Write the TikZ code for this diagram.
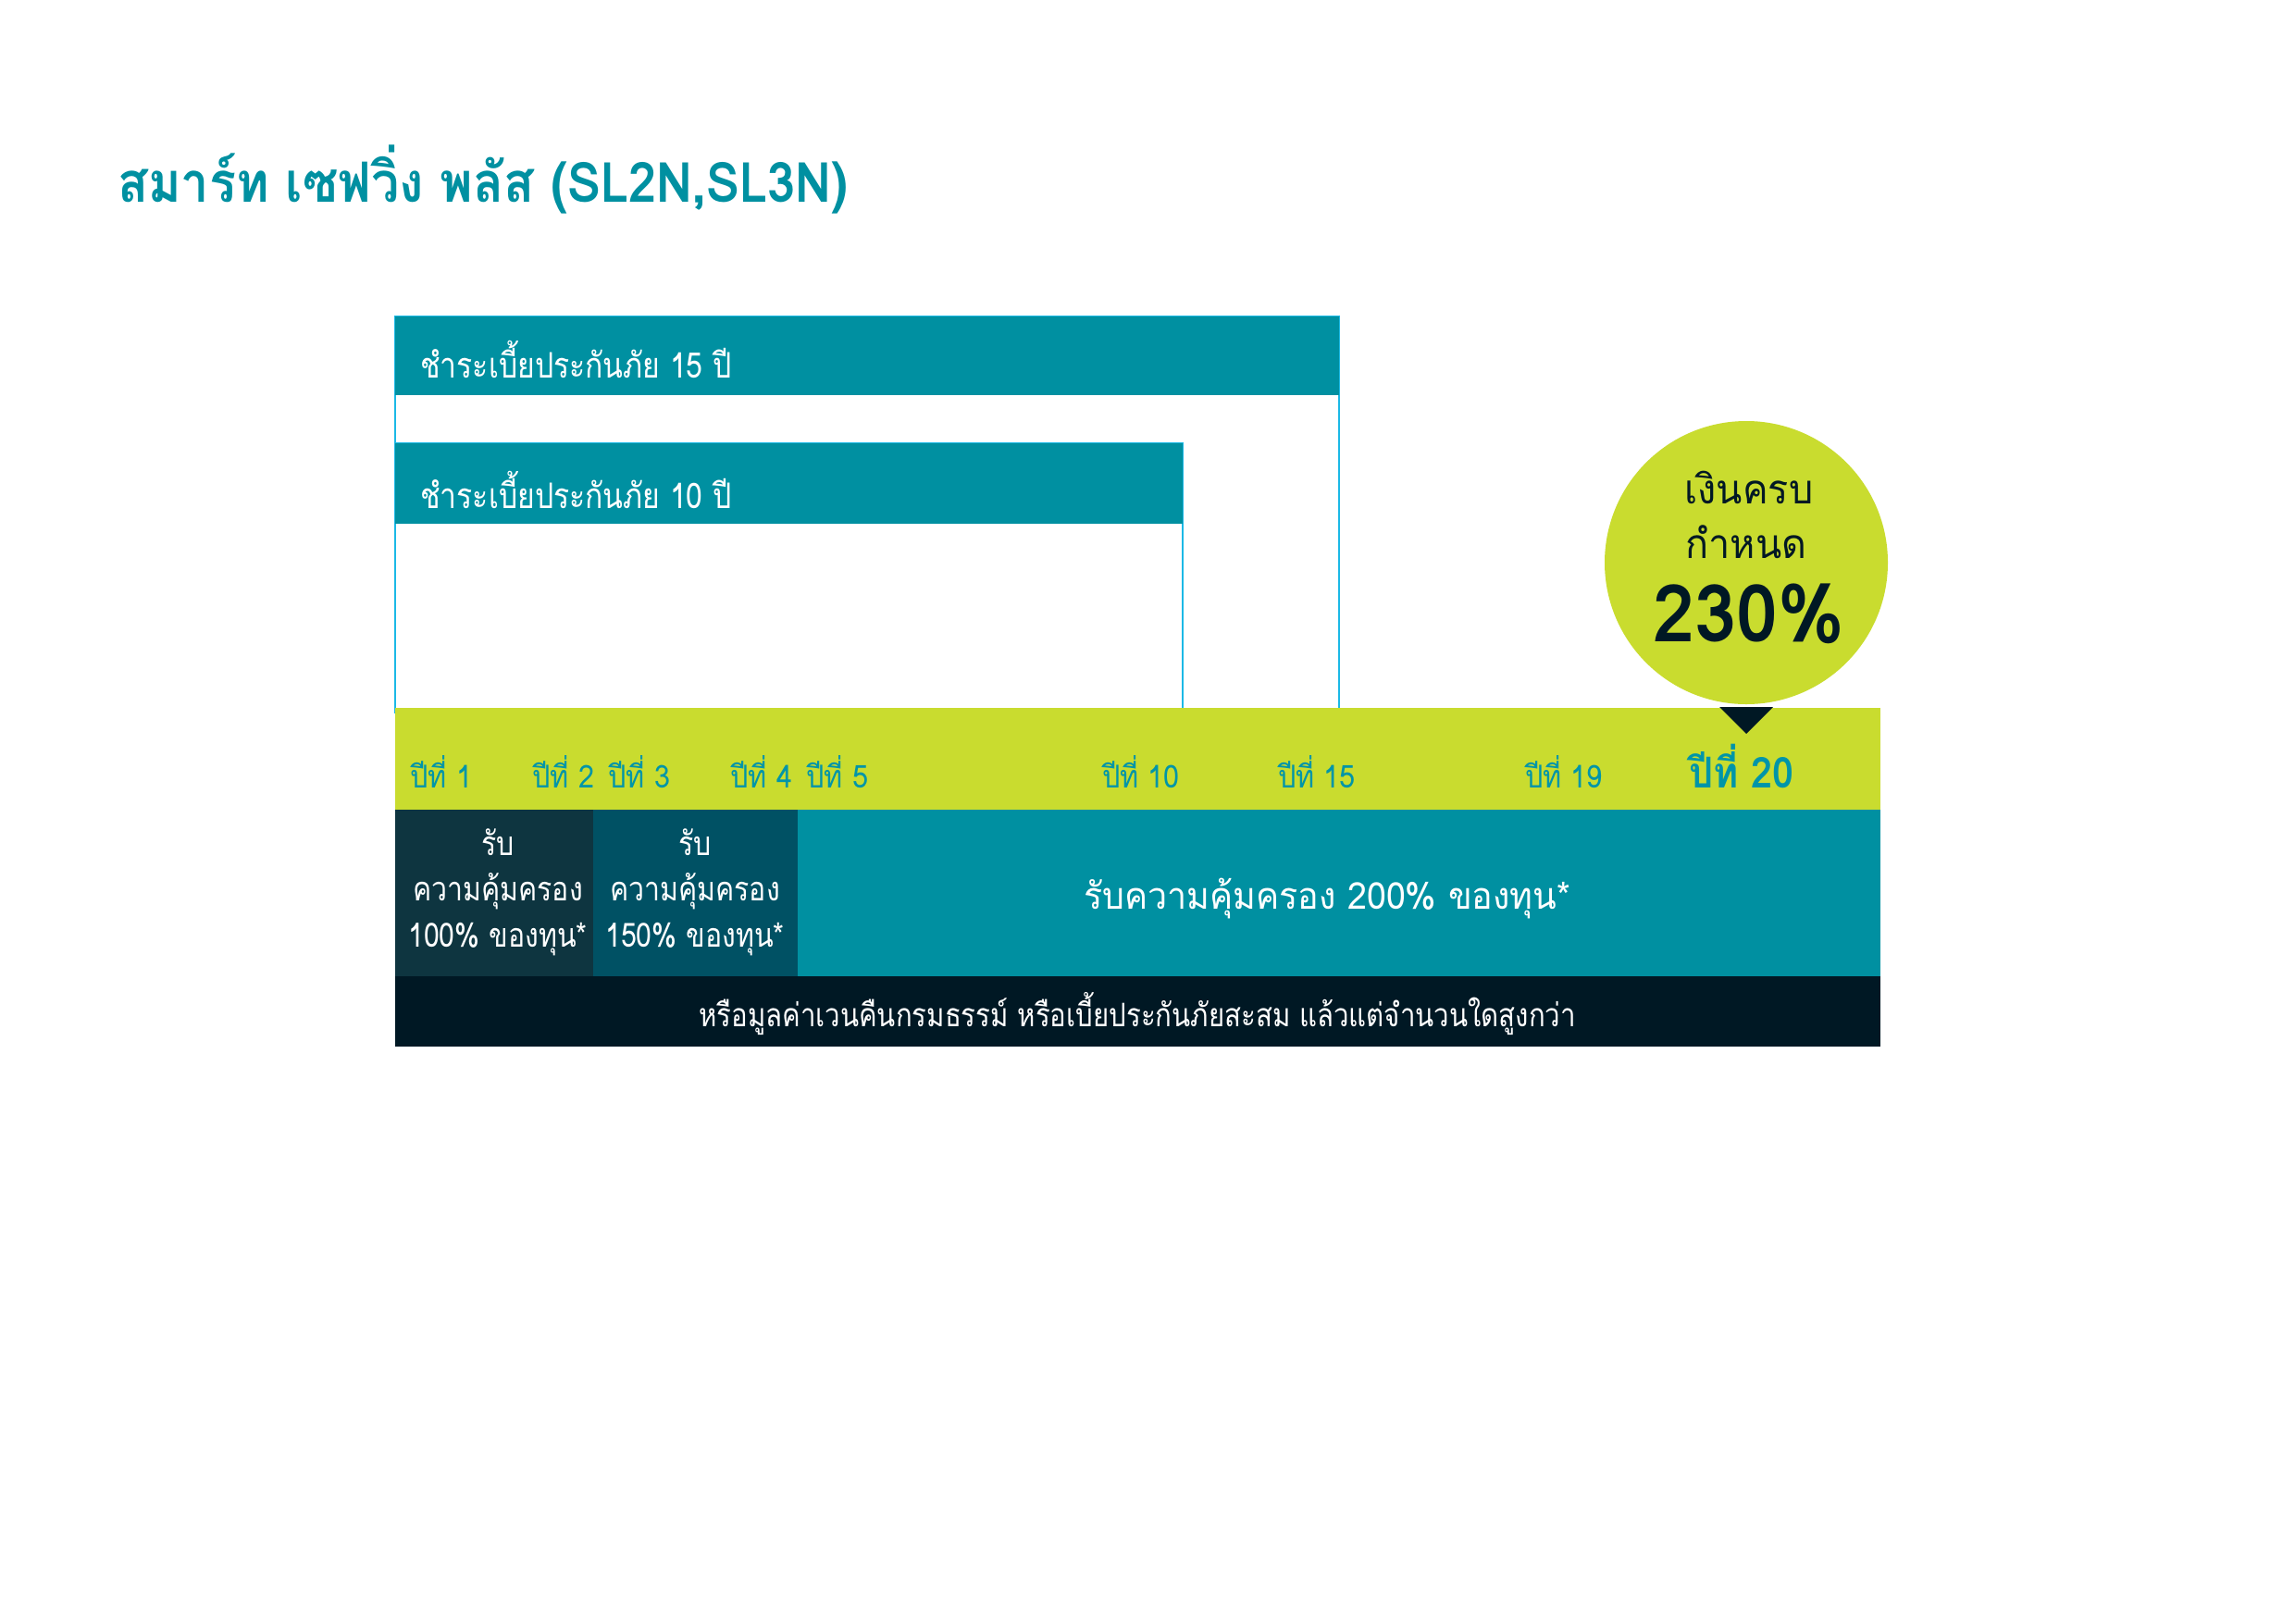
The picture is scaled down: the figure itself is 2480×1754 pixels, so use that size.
\documentclass[tikz,border=0pt]{standalone}
\usepackage{fontspec}
\setmainfont[Script=Thai]{Loma}
\newfontfamily\lomaA[Script=Thai,FakeStretch=0.84]{Loma}
\newfontfamily\lomaB[Script=Thai,FakeStretch=0.90]{Loma}
\newfontfamily\lomaC[Script=Thai,FakeStretch=0.94]{Loma}
\definecolor{tealc}{HTML}{0090A1}
\definecolor{yeartxt}{HTML}{0095A8}
\definecolor{boxline}{HTML}{1CB9E6}
\definecolor{lime}{HTML}{C9DC2F}
\definecolor{darkA}{HTML}{0E3540}
\definecolor{darkB}{HTML}{005164}
\definecolor{navy}{HTML}{001824}
\tikzset{
  yearlbl/.style={anchor=base, text=yeartxt, font=\lomaB\fontsize{34}{40}\selectfont, inner sep=0},
  headlbl/.style={anchor=base west, text=white, font=\lomaA\fontsize{38}{44}\selectfont, inner sep=0},
  covlbl/.style={anchor=base, text=white, font=\lomaA\fontsize{36}{42}\selectfont, inner sep=0},
  circlbl/.style={anchor=base, text=navy, inner sep=0},
}
\begin{document}
\begin{tikzpicture}[x=1pt,y=-1pt]
\useasboundingbox (0,0) rectangle (2480,1754);
\fill[white] (0,0) rectangle (2480,1754);
% title
\node[anchor=base west, text=tealc, inner sep=0, font=\lomaB\fontsize{60}{70}\selectfont\bfseries] (title) at (127,218) {สมาร์ท เซฟวิ่ง พลัส (SL2N,SL3N)};
% payment boxes
\draw[boxline, line width=2.5] (427,342) rectangle (1447,770);
\fill[tealc] (427,342) rectangle (1447,427);
\draw[boxline, line width=2.5] (427,479) rectangle (1278,770);
\fill[tealc] (427,479) rectangle (1278,566);
\node[headlbl] (pay15) at (454,408) {ชำระเบี้ยประกันภัย 15 ปี};
\node[headlbl] (pay10) at (454,549) {ชำระเบี้ยประกันภัย 10 ปี};
% timeline bar
\fill[lime] (427,765) rectangle (2032,875);
\node[yearlbl] (y1) at (477,851) {ปีที่ 1};
\node[yearlbl] (y2) at (609,851) {ปีที่ 2};
\node[yearlbl] (y3) at (691,851) {ปีที่ 3};
\node[yearlbl] (y4) at (823,851) {ปีที่ 4};
\node[yearlbl] (y5) at (905,851) {ปีที่ 5};
\node[yearlbl] (y10) at (1233,851) {ปีที่ 10};
\node[yearlbl] (y15) at (1423,851) {ปีที่ 15};
\node[yearlbl] (y19) at (1690,851) {ปีที่ 19};
\node[yearlbl, font=\lomaB\fontsize{46}{52}\selectfont\bfseries] (y20) at (1882,851) {ปีที่ 20};
% coverage row
\fill[darkA] (427,875) rectangle (641,1055);
\fill[darkB] (641,875) rectangle (862,1055);
\fill[tealc] (862,875) rectangle (2032,1055);
\node[covlbl] (c1a) at (538,924) {รับ};
\node[covlbl] (c1b) at (538,973) {ความคุ้มครอง};
\node[covlbl] (c1c) at (538,1023) {100\% ของทุน*};
\node[covlbl] (c2a) at (751,924) {รับ};
\node[covlbl] (c2b) at (751,973) {ความคุ้มครอง};
\node[covlbl] (c2c) at (751,1023) {150\% ของทุน*};
\node[covlbl, font=\lomaC\fontsize{40}{46}\selectfont] (c3) at (1434,982) {รับความคุ้มครอง 200\% ของทุน*};
% bottom bar
\fill[navy] (427,1055) rectangle (2032,1131);
\node[covlbl, font=\lomaA\fontsize{35}{40}\selectfont] (note) at (1229,1109) {หรือมูลค่าเวนคืนกรมธรรม์ หรือเบี้ยประกันภัยสะสม แล้วแต่จำนวนใดสูงกว่า};
% maturity circle
\node[circle, fill=lime, minimum size=306, inner sep=0] (mat) at (1887,608) {};
\node[circlbl, font=\lomaC\fontsize{44}{50}\selectfont] (m1) at (1890,544) {เงินครบ};
\node[circlbl, font=\lomaC\fontsize{44}{50}\selectfont] (m2) at (1887,603) {กำหนด};
\node[circlbl, font=\lomaC\fontsize{86}{90}\selectfont\bfseries] (m3) at (1890,693) {230\%};
\fill[navy] (1858,764) -- (1916,764) -- (1887,793) -- cycle;
\end{tikzpicture}
\end{document}
